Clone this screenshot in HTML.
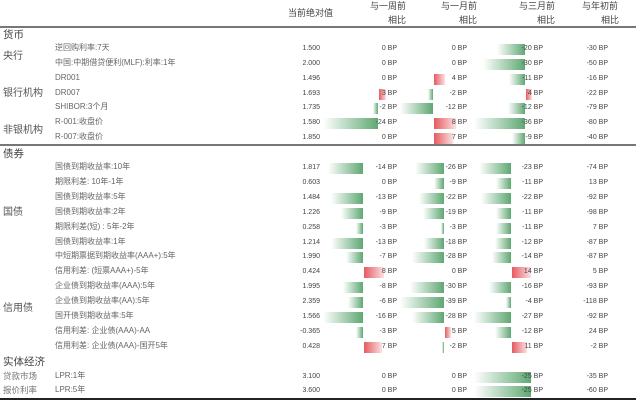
<!DOCTYPE html>
<html><head><meta charset="utf-8">
<style>
body{margin:0;background:#fff;}
#c{position:relative;width:640px;height:413px;overflow:hidden;font-family:"Liberation Sans","Noto Sans CJK SC",sans-serif;color:#555;}
.t{position:absolute;white-space:nowrap;line-height:1;}
.hd{font-size:9px;color:#444;}
.cat{font-size:10px;color:#555;}
.sec{font-size:10.5px;color:#444;}
.lab{font-size:8px;color:#666;}
.num{font-size:7px;color:#444;text-align:right;}
.bar{position:absolute;height:11px;}
.line{position:absolute;left:0;width:636px;}
</style></head><body>
<div id="c">
<div class="t hd" style="left:288px;top:9px">当前绝对值</div>
<div class="t hd" style="left:370px;top:2px">与一周前</div>
<div class="t hd" style="left:388px;top:16px">相比</div>
<div class="t hd" style="left:441px;top:2px">与一月前</div>
<div class="t hd" style="left:459px;top:16px">相比</div>
<div class="t hd" style="left:519px;top:2px">与三月前</div>
<div class="t hd" style="left:537px;top:16px">相比</div>
<div class="t hd" style="left:582px;top:2px">与年初前</div>
<div class="t hd" style="left:601px;top:16px">相比</div>
<div class="line" style="top:26px;height:2px;background:#777"></div>
<div class="line" style="top:144px;height:2px;background:#777"></div>
<div class="line" style="top:398px;height:1.5px;background:#222"></div>

<div class="t sec" style="left:3px;top:30px">货币</div>
<div class="t sec" style="left:3px;top:149px">债券</div>
<div class="t sec" style="left:3px;top:357px">实体经济</div>
<div class="t cat" style="left:3px;top:52px">央行</div>
<div class="t cat" style="left:3px;top:89px">银行机构</div>
<div class="t cat" style="left:3px;top:126px">非银机构</div>
<div class="t cat" style="left:3px;top:208px">国债</div>
<div class="t cat" style="left:3px;top:304px">信用债</div>
<div class="t cat" style="left:3px;top:372px;font-size:8.5px;color:#777">贷款市场</div>
<div class="t cat" style="left:3px;top:386px;font-size:8.5px;color:#777">报价利率</div>
</div>
<script>
const labels=["逆回购利率:7天","中国:中期借贷便利(MLF):利率:1年","DR001","DR007","SHIBOR:3个月","R-001:收盘价","R-007:收盘价",
"国债到期收益率:10年","期限利差: 10年-1年","国债到期收益率:5年","国债到期收益率:2年","期限利差(短) : 5年-2年","国债到期收益率:1年","中短期票据到期收益率(AAA+):5年","信用利差: (短票AAA+)-5年","企业债到期收益率(AAA):5年","企业债到期收益率(AA):5年","国开债到期收益率:5年","信用利差: 企业债(AAA)-AA","信用利差: 企业债(AAA)-国开5年",
"LPR:1年","LPR:5年"];
const current=["1.500","2.000","1.496","1.693","1.735","1.580","1.850","1.817","0.603","1.484","1.226","0.258","1.214","1.990","0.424","1.995","2.359","1.566","-0.365","0.428","3.100","3.600"];
const week=[0,0,0,3,-2,-24,0,-14,0,-13,-9,-3,-13,-7,8,-8,-6,-16,-3,7,0,0];
const month=[0,0,4,-2,-12,8,7,-26,-9,-22,-19,-3,-18,-28,0,-30,-39,-28,5,-2,0,0];
const threeM=[-20,-30,-11,4,-12,-36,-9,-23,-11,-22,-11,-11,-12,-14,14,-16,-4,-27,-12,11,-25,-25];
const ytd=[-30,-50,-16,-22,-79,-80,-40,-74,13,-92,-98,7,-87,-87,5,-93,-118,-92,24,-2,-35,-60];
const groups=[0,0,0,0,0,0,0,1,1,1,1,1,1,1,1,1,1,1,1,1,2,2];
const rowY=[49,64,79,94,108,123,138,168,183,198,213,228,243,257,272,287,302,317,332,347,377,391];
const c=document.getElementById('c');
const cols=[{data:week,right:397,left:323,axis:[378,363,378]},
 {data:month,right:467,left:400,axis:[433,444,444]},
 {data:threeM,right:543,left:474,axis:[525,511,531]}];
function maxNeg(arr,g){let m=0;arr.forEach((v,i)=>{if(groups[i]===g&&v<0)m=Math.max(m,-v);});return m||1;}
function txt(s,x,y,cls,right,name){const d=document.createElement('div');d.className='t '+cls;d.textContent=s;
 
 
 d.style.top=(y-4)+'px';
 if(right){d.style.right=(640-x)+'px';}else d.style.left=x+'px';c.appendChild(d);}
labels.forEach((l,i)=>{
 txt(l,55,rowY[i]-1,'lab',false,'row-label');
 txt(current[i],320,rowY[i],'num',true,'current-value');
 cols.forEach((col,ci)=>{
  const g=groups[i],v=col.data[i];
  const ax=col.axis[g],sc=(ax-col.left)/maxNeg(col.data,g);
  if(v!==0){const b=document.createElement('div');b.className='bar';
   
   
   const w=Math.abs(v)*sc;b.style.top=(rowY[i]-5)+'px';b.style.width=w+'px';
   if(v<0){b.style.left=(ax-w)+'px';b.style.background='linear-gradient(to right,#ffffff,#5fa873)';}
   else{b.style.left=(ax+1)+'px';b.style.background='linear-gradient(to right,#e65a5f,#fbe1e2)';}
   c.appendChild(b);}
  txt(v+' BP',col.right,rowY[i],'num',true,'change-value');
 });
 txt(ytd[i]+' BP',608,rowY[i],'num',true,'ytd-value');
});
</script>
</body></html>
